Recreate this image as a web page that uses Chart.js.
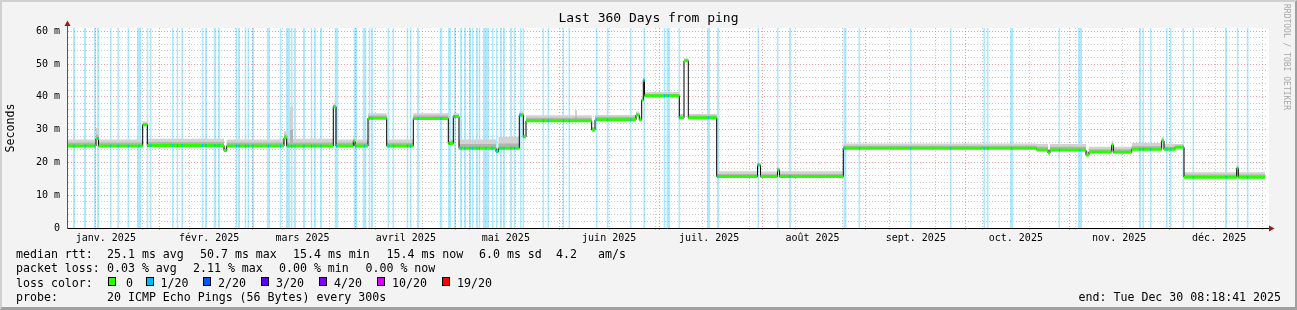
<!DOCTYPE html>
<html><head><meta charset="utf-8">
<script src="https://cdn.jsdelivr.net/npm/chart.js@4.4.1/dist/chart.umd.min.js"></script>
<style>
html,body{margin:0;padding:0;background:#f3f3f3;}
#wrap{position:relative;width:1297px;height:310px;background:#f3f3f3;overflow:hidden;font-family:"DejaVu Sans Mono",monospace;}
#c{position:absolute;left:0;top:0;}
#frame{position:absolute;left:0;top:0;width:1297px;height:310px;box-sizing:border-box;border-top:2px solid #d0d0d0;border-left:2px solid #d0d0d0;border-right:2px solid #a0a0a0;border-bottom:3px solid #a0a0a0;pointer-events:none;}
.t{position:absolute;font-size:11.6px;line-height:14px;white-space:pre;color:#000;}
.sw{position:absolute;width:6px;height:7px;border:1px solid #000;}
#rrd{position:absolute;left:1282px;top:4px;font-size:8px;line-height:9px;color:#a8a8a8;writing-mode:vertical-rl;white-space:pre;}
</style></head>
<body>
<div id="wrap">
<canvas id="c" width="1297" height="310"></canvas>
<div id="rrd">RRDTOOL / TOBI OETIKER</div>
<div class="t" style="left:16px;top:247px">median rtt:</div>
<div class="t" style="left:107px;top:247px">25.1 ms avg</div>
<div class="t" style="left:200px;top:247px">50.7 ms max</div>
<div class="t" style="left:293px;top:247px">15.4 ms min</div>
<div class="t" style="left:386.5px;top:247px">15.4 ms now</div>
<div class="t" style="left:479px;top:247px">6.0 ms sd</div>
<div class="t" style="left:556px;top:247px">4.2</div>
<div class="t" style="left:598px;top:247px">am/s</div>
<div class="t" style="left:16px;top:261px">packet loss:</div>
<div class="t" style="left:107px;top:261px">0.03 % avg</div>
<div class="t" style="left:193px;top:261px">2.11 % max</div>
<div class="t" style="left:279px;top:261px">0.00 % min</div>
<div class="t" style="left:365.5px;top:261px">0.00 % now</div>
<div class="t" style="left:16px;top:275.5px">loss color:</div>
<div class="sw" style="left:108px;top:277px;background:#26ff00"></div><div class="t" style="left:126px;top:275.5px">0</div>
<div class="sw" style="left:146px;top:277px;background:#00b8ff"></div><div class="t" style="left:160.5px;top:275.5px">1/20</div>
<div class="sw" style="left:203px;top:277px;background:#0059ff"></div><div class="t" style="left:218px;top:275.5px">2/20</div>
<div class="sw" style="left:261px;top:277px;background:#5e00ff"></div><div class="t" style="left:276px;top:275.5px">3/20</div>
<div class="sw" style="left:319px;top:277px;background:#7e00ff"></div><div class="t" style="left:334px;top:275.5px">4/20</div>
<div class="sw" style="left:377px;top:277px;background:#dd00ff"></div><div class="t" style="left:392px;top:275.5px">10/20</div>
<div class="sw" style="left:442px;top:277px;background:#ff0000"></div><div class="t" style="left:457px;top:275.5px">19/20</div>
<div class="t" style="left:16px;top:289.5px">probe:</div>
<div class="t" style="left:107px;top:289.5px">20 ICMP Echo Pings (56 Bytes) every 300s</div>
<div class="t" style="right:16px;top:289.5px">end: Tue Dec 30 08:18:41 2025</div>
<div id="frame"></div>
</div>
<script>
// x values: days since 1 Jan 2025 00:00 (fractional)
const X_MIN = 3.35, X_MAX = 363.35;
const monthStarts = [0, 31, 59, 90, 120, 151, 181, 212, 243, 273, 304, 334];
const monthLabels = ['janv. 2025','févr. 2025','mars 2025','avril 2025','mai 2025','juin 2025','juil. 2025','août 2025','sept. 2025','oct. 2025','nov. 2025','déc. 2025'];
const minorGridStart = 12, minorGridStep = 14; // every second Monday
const yTickValues = [0, 10, 20, 30, 40, 50, 60];
const yTickLabels = ['0', '10 m', '20 m', '30 m', '40 m', '50 m', '60 m'];
const Y_MAX = 61;

// median rtt (ms), step changes
const medDay = [3.35,12.05,12.8,26.06,27.44,50.45,51.26,68.45,69.26,70.25,71.15,83.24,84.05,89.24,89.75,93.65,99.26,107.24,117.74,119.24,120.95,132.05,132.8,139.04,140.24,141.05,155.75,156.35,160.76,161.75,174.05,175.04,175.76,176.24,176.6,187.04,188.45,189.74,198.26,210.5,211.4,216.5,217.1,236.24,294.26,297.65,298.25,309.05,309.95,316.76,317.24,322.76,331.76,332.45,335.75,338.45,354.26,354.74,362.75];
const medMs = [25.0,27.3,25.0,31.5,25.2,23.6,25.0,27.5,25.0,25.0,25.0,37.0,25.0,26.5,25.0,33.5,25.0,33.4,25.8,34.0,24.3,23.3,24.3,34.5,27.8,32.7,32.7,32.7,29.9,33.0,34.5,33.0,39.0,45.1,40.3,33.6,51.0,33.6,15.7,19.2,15.7,17.7,15.7,24.3,23.8,22.9,23.8,22.3,23.2,25.3,23.1,24.0,26.6,24.0,24.6,15.5,18.2,15.5,15.5];
// smoke (upper envelope of the ping spread), ms
const smokeHiMs = [27.0,30.5,27.0,32.5,27.2,24.5,27.0,29.5,27.2,37.0,27.2,38.0,27.0,27.5,27.0,35.0,27.0,35.0,27.0,35.0,27.0,24.5,27.8,35.5,28.5,34.4,36.0,34.4,30.8,34.5,35.5,34.0,40.0,46.0,41.5,34.8,51.8,34.8,17.3,20.0,17.2,18.5,17.3,25.8,25.6,24.0,25.6,23.5,24.8,26.5,24.8,25.9,27.8,25.7,25.6,17.0,19.2,17.0,17.0];
const smokeMidMs = [26.1,28.5,26.1,32.0,26.2,24.0,26.1,28.5,26.1,30.0,26.1,37.5,26.1,27.0,26.1,34.3,26.0,34.3,26.5,34.5,25.6,24.0,25.8,35.0,28.2,33.6,34.0,33.6,30.4,33.9,35.0,33.6,39.5,45.5,40.9,34.3,51.4,34.3,16.5,19.6,16.4,18.1,16.5,25.1,24.8,23.5,24.8,23.0,24.0,25.9,24.0,24.9,27.2,24.8,25.1,16.3,18.7,16.3,16.3];
// periods with 1/20 packet loss: centre day and duration (days)
const lossDay = [5.45,8.75,11.75,12.74,16.46,18.71,21.74,24.95,27.5,28.46,35.09,36.5,37.91,44.0,45.05,47.75,48.95,54.2,54.95,56.9,57.74,59.15,63.8,67.4,69.65,70.76,71.75,74.45,76.7,77.75,79.55,84.2,89.9,92.6,94.1,94.85,99.74,101.24,105.5,106.46,108.65,115.55,118.1,119.75,121.55,122.75,124.25,125.06,126.35,127.1,129.05,131.06,132.26,133.55,134.45,136.55,137.6,139.46,140.24,146.24,147.74,152.24,154.04,162.26,165.56,172.46,176.51,182.6,183.74,187.04,195.8,198.65,210.74,216.56,220.25,236.75,241.04,256.46,268.46,278.54,279.56,286.76,301.04,307.25,325.25,326.24,328.46,333.26,334.46,338.24,341.24,351.05,354.56,357.56];
const lossDur = [0.6,0.6,0.6,0.75,0.6,0.6,0.6,1.2,0.6,0.6,0.6,0.6,0.6,0.6,0.6,0.9,0.6,0.6,0.6,0.6,0.6,0.6,0.9,0.6,1.2,0.6,0.6,0.6,0.6,0.6,0.6,1.2,1.2,1.2,0.6,0.6,0.6,0.6,0.6,0.6,0.6,0.9,0.9,0.6,0.6,0.6,0.6,0.6,0.6,0.6,1.8,0.6,0.6,0.6,0.6,0.6,0.6,0.6,0.6,0.6,0.6,0.6,0.6,0.6,0.6,0.6,0.6,0.6,1.2,0.6,0.9,0.6,0.6,0.6,0.6,1.0,0.6,0.6,0.6,0.6,0.6,1.0,0.6,1.2,0.6,0.6,0.6,0.6,0.6,0.6,0.6,0.6,0.6,0.6];
const LOSS_MARK = 0.3; // length (days) of the coloured mark on the median

// ---- derived structures for the library ----
function medianAt(d){ let v = medMs[0]; for (let i=0;i<medDay.length;i++){ if (medDay[i] <= d) v = medMs[i]; } return v; }
const medPts = medDay.map((d,i)=>({x:d, y:medMs[i]}));
const hiPts = medDay.map((d,i)=>({x:d, y:smokeHiMs[i]}));
const midPts = medDay.map((d,i)=>({x:d, y:smokeMidMs[i]}));
const greenPts = [];
for (let i=0;i<medDay.length-1;i++){ greenPts.push({x:medDay[i],y:medMs[i]},{x:medDay[i+1],y:medMs[i]},{x:medDay[i+1],y:null}); }
const lossPts = [], bluePts = [];
lossDay.forEach((c,i)=>{ const s=c-lossDur[i]/2, e=c+lossDur[i]/2; lossPts.push({x:s,y:Y_MAX},{x:e,y:Y_MAX},{x:e,y:null}); const m=medianAt(c); bluePts.push({x:c-LOSS_MARK/2,y:m},{x:c+LOSS_MARK/2,y:m},{x:c+LOSS_MARK/2,y:null}); });

const gridDays = [];
monthStarts.forEach(d=>{ if (d>X_MIN && d<X_MAX) gridDays.push({d:d, major:true}); });
for (let d=minorGridStart; d<X_MAX; d+=minorGridStep){ if (d>X_MIN && monthStarts.indexOf(d)<0) gridDays.push({d:d, major:false}); }
gridDays.sort((a,b)=>a.d-b.d);
const yGrid = []; for (let v=0; v<=60; v+=2) yGrid.push(v);

const RED = 'rgba(235,90,90,0.6)', GRAY = 'rgba(150,150,150,0.5)';
const MONO = 'DejaVu Sans Mono';

const decor = {
  id:'decor',
  beforeDraw(chart){ const {ctx, chartArea:a} = chart; ctx.save(); ctx.fillStyle='#ffffff'; ctx.fillRect(a.left, a.top, a.right-a.left+2, a.bottom-a.top); ctx.restore(); },
  afterDraw(chart){
    const {ctx, chartArea:a} = chart; ctx.save();
    ctx.strokeStyle='#000'; ctx.lineWidth=1;
    ctx.beginPath(); ctx.moveTo(a.right, a.bottom+0.5); ctx.lineTo(a.right+4, a.bottom+0.5); ctx.stroke();
    ctx.strokeStyle='#555'; ctx.beginPath(); ctx.moveTo(a.left+0.5, a.top); ctx.lineTo(a.left+0.5, a.top-3); ctx.stroke();
    ctx.fillStyle='#9a1a1a';
    ctx.beginPath(); ctx.moveTo(a.left-2.5, a.top-2); ctx.lineTo(a.left+3.5, a.top-2); ctx.lineTo(a.left+0.5, a.top-7.5); ctx.closePath(); ctx.fill();
    ctx.beginPath(); ctx.moveTo(a.right+2, a.bottom-2.5); ctx.lineTo(a.right+2, a.bottom+3.5); ctx.lineTo(a.right+7.5, a.bottom+0.5); ctx.closePath(); ctx.fill();
    ctx.restore();
  }
};

new Chart(document.getElementById('c'), {
  type:'line',
  data:{ datasets:[
    {label:'loss', data:lossPts, borderWidth:0, pointRadius:0, fill:'origin', backgroundColor:'rgba(0,184,255,0.32)', spanGaps:false, order:6},
    {label:'median', data:medPts, stepped:true, borderColor:'#000', borderWidth:1, pointRadius:0, fill:false, order:3},
    {label:'smoke', data:hiPts, stepped:true, borderWidth:0, pointRadius:0, fill:{target:1}, backgroundColor:'#d2d2d2', order:5},
    {label:'smoke2', data:midPts, stepped:true, borderWidth:0, pointRadius:0, fill:{target:1}, backgroundColor:'#b3b3b3', order:4},
    {label:'loss 0', data:greenPts, borderColor:'#26ff00', borderWidth:3, pointRadius:0, fill:false, spanGaps:false, borderCapStyle:'butt', order:2},
    {label:'loss 1/20', data:bluePts, borderColor:'#00b8ff', borderWidth:3, pointRadius:0, fill:false, spanGaps:false, borderCapStyle:'butt', order:1}
  ]},
  options:{
    responsive:false, animation:false, devicePixelRatio:1,
    layout:{padding:{left:0,right:0,top:0,bottom:60}},
    plugins:{
      legend:{display:false}, tooltip:{enabled:false},
      title:{display:true, text:'Last 360 Days from ping', color:'#000', font:{family:MONO, size:13, weight:'normal', lineHeight:1.2}, padding:{top:11, bottom:1.4}}
    },
    scales:{
      x:{ type:'linear', min:X_MIN, max:X_MAX, position:'bottom', weight:1,
        afterBuildTicks:s=>{ s.ticks = monthStarts.map(d=>({value:d+15})); },
        afterFit:s=>{ s.height = 22; },
        ticks:{ autoSkip:false, maxRotation:0, padding:4, color:'#000', font:{family:MONO, size:10}, callback:(v,i)=>monthLabels[i] },
        grid:{ display:false, drawTicks:false },
        border:{ display:true, color:'#000', width:1, z:2 } },
      xg:{ type:'linear', min:X_MIN, max:X_MAX, position:'bottom', weight:0,
        afterBuildTicks:s=>{ s.ticks = gridDays.map(g=>({value:g.d})); },
        afterFit:s=>{ s.height = 0; },
        ticks:{ display:false },
        grid:{ drawTicks:true, tickLength:2, lineWidth:1, color:ctx=> (gridDays[ctx.index] && gridDays[ctx.index].major) ? RED : GRAY },
        border:{ display:false, dash:[1,2] } },
      y:{ type:'linear', min:0, max:Y_MAX, position:'left',
        afterBuildTicks:s=>{ s.ticks = yGrid.map(v=>({value:v})); },
        afterFit:s=>{ s.width = 67; },
        ticks:{ autoSkip:false, padding:7, color:'#000', font:{family:MONO, size:10}, callback:(v)=>{ const i = yTickValues.indexOf(v); return i>=0 ? yTickLabels[i] : ''; } },
        grid:{ drawTicks:false, lineWidth:1, color:ctx=> (ctx.tick && ctx.tick.value % 10 === 0) ? RED : GRAY },
        border:{ display:true, color:'#555', width:1, dash:[1,2], z:2 },
        title:{ display:true, text:'Seconds', color:'#000', font:{family:MONO, size:11.6, lineHeight:1.2}, padding:{top:4, bottom:0} } },
      yr:{ type:'linear', min:0, max:Y_MAX, position:'right', display:true,
        afterFit:s=>{ s.width = 30; },
        ticks:{ display:false }, grid:{ display:false, drawTicks:false }, border:{ display:false } }
    }
  },
  plugins:[decor]
});
</script>
</body></html>
